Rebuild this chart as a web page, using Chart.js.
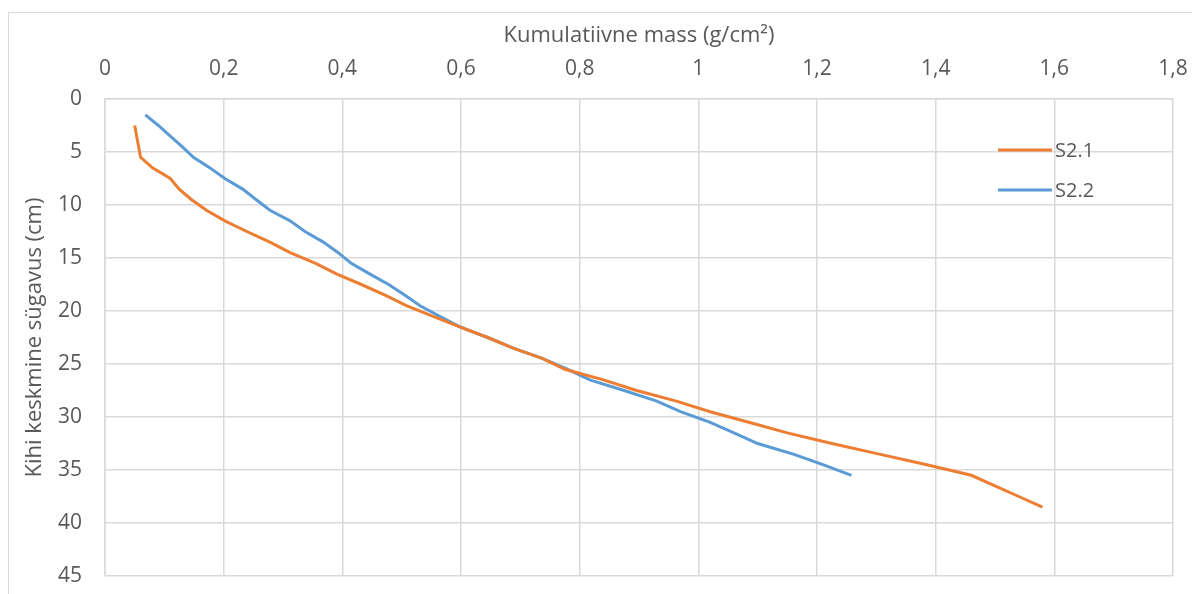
<!DOCTYPE html>
<html>
<head>
<meta charset="utf-8">
<script src="https://cdn.jsdelivr.net/npm/chart.js@4"></script>
<style>
  html, body { margin: 0; padding: 0; background: #fff; overflow: hidden; }
  #wrap { width: 1192px; height: 594px; }
</style>
</head>
<body>
<div id="wrap"><canvas id="massChart" width="1192" height="594"></canvas></div>
<script>
// depth (cm) of each layer midpoint and cumulative mass (g/cm2)
const depthS21 = [2.5, 5.5, 6.5, 7.5, 8.5, 9.5, 10.5, 11.5, 12.5, 13.5, 14.5, 15.5, 16.5, 17.5, 18.5, 19.5, 20.5, 21.5, 22.5, 23.5, 24.5, 25.5, 26.5, 27.5, 28.5, 29.5, 30.5, 31.5, 32.5, 33.5, 34.5, 35.5, 36.5, 37.5, 38.5];
const massS21 = [0.05, 0.06, 0.08, 0.11, 0.125, 0.146, 0.171, 0.202, 0.239, 0.278, 0.312, 0.355, 0.39, 0.432, 0.472, 0.508, 0.553, 0.598, 0.645, 0.688, 0.738, 0.775, 0.84, 0.896, 0.963, 1.02, 1.085, 1.15, 1.225, 1.305, 1.385, 1.46, 1.50, 1.54, 1.58];

const depthS22 = [1.5, 2.5, 3.5, 4.5, 5.5, 6.5, 7.5, 8.5, 9.5, 10.5, 11.5, 12.5, 13.5, 14.5, 15.5, 16.5, 17.5, 18.5, 19.5, 20.5, 21.5, 22.5, 23.5, 24.5, 25.5, 26.5, 27.5, 28.5, 29.5, 30.5, 31.5, 32.5, 33.5, 34.5, 35.5];
const massS22 = [0.068, 0.09, 0.11, 0.13, 0.149, 0.177, 0.202, 0.232, 0.255, 0.278, 0.312, 0.337, 0.368, 0.393, 0.415, 0.446, 0.478, 0.505, 0.531, 0.564, 0.598, 0.645, 0.688, 0.738, 0.78, 0.817, 0.875, 0.93, 0.97, 1.02, 1.06, 1.10, 1.16, 1.21, 1.258];

const seriesNames = ['S2.1', 'S2.2'];
const seriesColors = ['#ED7D31', '#5B9BD5'];

const FONT = '"Open Sans", Calibri, sans-serif';
const TEXT = '#595959';

function toPoints(xs, ys) {
  return xs.map((x, i) => ({ x: x, y: ys[i] }));
}

// outer chart border (Excel style)
const frame = {
  id: 'frame',
  beforeDraw(chart) {
    const c = chart.ctx;
    c.save();
    c.strokeStyle = '#d9d9d9';
    c.lineWidth = 1;
    c.strokeRect(8.5, 12.5, 1300, 700);
    c.restore();
  }
};

// legend sits inside the plot, right side
const insideLegend = {
  id: 'insideLegend',
  afterDraw(chart) {
    const c = chart.ctx;
    const rows = [150, 190];
    c.save();
    seriesNames.forEach((name, i) => {
      c.strokeStyle = seriesColors[i];
      c.lineWidth = 3;
      c.beginPath();
      c.moveTo(998, rows[i]);
      c.lineTo(1052, rows[i]);
      c.stroke();
      c.fillStyle = TEXT;
      c.font = '20px ' + FONT;
      c.textBaseline = 'middle';
      c.fillText(name, 1055, rows[i] + 1);
    });
    c.restore();
  }
};

const ctx = document.getElementById('massChart').getContext('2d');
const massChart = new Chart(ctx, {
  type: 'line',
  data: {
    datasets: [
      {
        label: seriesNames[0],
        data: toPoints(massS21, depthS21),
        borderColor: seriesColors[0],
        borderWidth: 3,
        pointRadius: 0,
        tension: 0
      },
      {
        label: seriesNames[1],
        data: toPoints(massS22, depthS22),
        borderColor: seriesColors[1],
        borderWidth: 3,
        pointRadius: 0,
        tension: 0
      }
    ]
  },
  options: {
    responsive: false,
    animation: false,
    layout: { padding: { left: 0, top: 0, right: 19, bottom: 18 } },
    plugins: {
      legend: { display: false },
      tooltip: { enabled: false }
    },
    scales: {
      x: {
        type: 'linear',
        position: 'top',
        min: 0,
        max: 1.8,
        afterFit(scale) {
          scale.height = 99;
          scale.paddingLeft = 0;
          scale.paddingRight = 0;
        },
        grid: { color: '#d9d9d9', lineWidth: 1.5, drawTicks: false },
        border: { color: '#d9d9d9', width: 1.5 },
        ticks: {
          stepSize: 0.2,
          padding: 17,
          color: TEXT,
          font: { family: FONT, size: 21 },
          callback: (v) => String(Math.round(v * 10) / 10).replace('.', ',')
        },
        title: {
          display: true,
          text: 'Kumulatiivne mass (g/cm²)',
          color: TEXT,
          font: { family: FONT, size: 22 },
          padding: { top: 23, bottom: 0 }
        }
      },
      y: {
        type: 'linear',
        reverse: true,
        min: 0,
        max: 45,
        afterFit(scale) {
          scale.width = 105;
          scale.paddingTop = 0;
          scale.paddingBottom = 0;
        },
        grid: { color: '#d9d9d9', lineWidth: 1.5, drawTicks: false },
        border: { color: '#d9d9d9', width: 1.5 },
        ticks: {
          stepSize: 5,
          padding: 23,
          color: TEXT,
          font: { family: FONT, size: 21 }
        },
        title: {
          display: true,
          text: 'Kihi keskmine sügavus (cm)',
          color: TEXT,
          font: { family: FONT, size: 22 },
          padding: { top: 22, bottom: 0 }
        }
      }
    }
  },
  plugins: [frame, insideLegend]
});
</script>
</body>
</html>
